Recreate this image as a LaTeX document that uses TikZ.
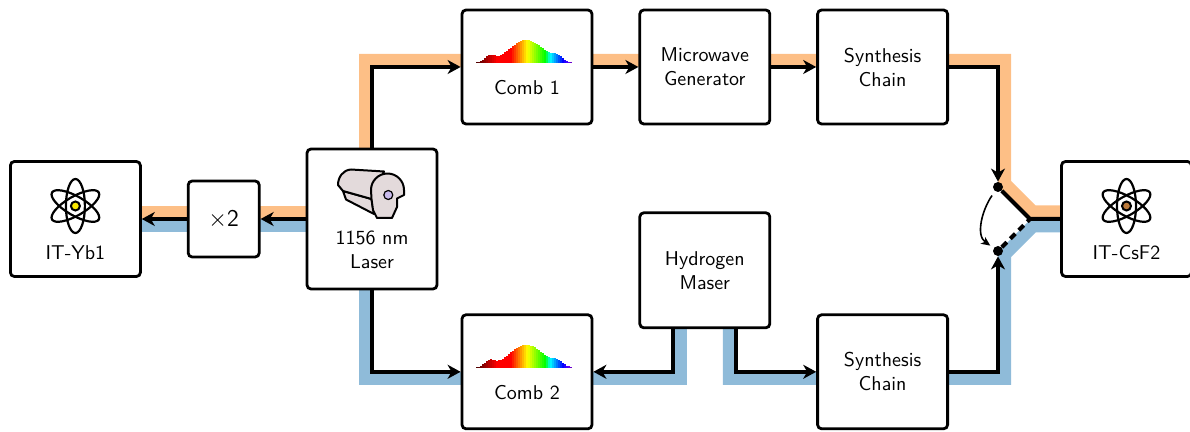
\documentclass[tikz,border=0pt]{standalone}
\usepackage{amsmath}
\usepackage[usenames,dvipsnames]{xcolor}
\usepackage{tikz}
\usetikzlibrary{positioning, arrows.meta, backgrounds}

\definecolor{beamorange}{RGB}{253,191,134}
\definecolor{beamblue}{RGB}{143,187,217}
\definecolor{ybyellow}{RGB}{250,232,0}
\definecolor{csbrown}{RGB}{188,122,58}
\definecolor{laserbody}{RGB}{227,218,219}
\definecolor{laserlens}{RGB}{200,186,235}

\begin{document}
\begin{tikzpicture}[x=0.5pt, y=0.5pt, node distance=22.5pt,
  box node/.style={draw, fill=white, rounded corners=2pt, line width=1.4pt,
    minimum width=65pt, minimum height=57.5pt, inner sep=0pt, align=center, font=\sffamily},
  label node/.style={align=center, font=\sffamily, inner sep=0pt},
  link/.style={line width=2pt, -{Stealth[length=6.5pt, width=7pt, inset=2pt]}},
  beam/.style={line width=6.5pt},
  dot node/.style={circle, fill, inner sep=0pt, minimum size=5pt},
  switch arrow/.style={line width=0.8pt, -{Stealth[length=4.5pt, width=4pt, inset=1.2pt]},
    shorten <=2.5pt, shorten >=2pt},
  body/.style={draw=black, fill=laserbody, line width=1pt, line join=round},
  atom/.pic={
    \foreach \a in {90,30,-30}
      \draw[line width=1.1pt, rotate=\a] (0,0) ellipse [x radius=13.5pt, y radius=4.75pt];
    \fill[white] (0,0) circle [radius=4pt];
    \draw[line width=1pt, fill=#1] (0,0) circle [radius=2.25pt];
  },
  laser head/.pic={
    \filldraw[body] (-29,-1) -- (-26,-9.5) -- (2,-24) -- (-0.5,-9) -- cycle;
    \filldraw[body] (-29,-1) -- (-34,5) .. controls (-34,13) and (-29,20) .. (-21,20.5)
      -- (12,18.5) -- (-0.5,-9) -- cycle;
    \filldraw[body] (-1,0) arc [start angle=180, end angle=0, radius=8.25pt] -- (32,-5)
      -- (25,-8.5) -- (25,-17) -- (20,-28) -- (5,-28) -- (1,-20) -- (-0.5,-9) -- cycle;
    \filldraw[fill=laserlens, line width=0.6pt] (16.3,-5) circle [radius=2.25pt];
  },
  spectrum/.pic={
    \foreach \i in {0,...,47}{
      \pgfmathsetmacro{\bx}{-47+2*\i}
      \pgfmathsetmacro{\bl}{780-7.9*\i}
      \pgfmathsetmacro{\bh}{23*exp(-((\bx-2.5)^2)/594)+6*exp(-((\bx+34.5)^2)/49)+4.5*exp(-((\bx-33.5)^2)/49)}
      \definecolor{bar}{wave}{\bl}
      \fill[bar] (\bx-1,0) rectangle ++(2,\bh);
    }
  }]

\useasboundingbox (0,0) rectangle (1190,-432);

\node[box node, minimum height=70pt] (laser) at (372,-219) {};
\node[box node, minimum width=35.5pt, minimum height=38pt, font=\sffamily\large] (x2) [left=of laser] {$\times$2};
\node[box node] (yb1) [left=of x2] {};
\node[box node, minimum height=57pt] (comb1) at (527,-67) {};
\node[box node, minimum height=57pt] (mw) [right=of comb1] {Microwave\\Generator};
\node[box node, minimum height=57pt] (synth1) [right=of mw] {Synthesis\\Chain};
\node[box node] (maser) [below=43pt of mw] {Hydrogen\\Maser};
\node[box node, minimum height=57pt] (comb2) [below=94pt of comb1] {};
\node[box node, minimum height=57pt] (synth2) [below=94pt of synth1] {Synthesis\\Chain};
\node[box node] (csf2) at (1126.5,-219) {};

\node[dot node] (sw1) at (998,-187) {};
\node[dot node] (sw2) at (998,-251) {};
\coordinate (hub) at (1030,-219);

\pic at ([yshift=6.5pt]yb1.center) {atom=ybyellow};
\node[label node] (yb1 label) at ([yshift=-17pt]yb1.center) {IT-Yb1};
\pic at ([yshift=6.5pt]csf2.center) {atom=csbrown};
\node[label node] (csf2 label) at ([yshift=-17pt]csf2.center) {IT-CsF2};
\pic at ([yshift=14.5pt]laser.center) {laser head};
\node[label node] (laser label) at ([yshift=-15.5pt]laser.center) {1156 nm\\Laser};
\pic at ([shift={(-1.75pt,2pt)}]comb1.center) {spectrum};
\node[label node] (comb1 label) at ([yshift=-10.5pt]comb1.center) {Comb 1};
\pic at ([shift={(-1.75pt,2pt)}]comb2.center) {spectrum};
\node[label node] (comb2 label) at ([yshift=-10.5pt]comb2.center) {Comb 2};

\begin{scope}[on background layer]
\draw[beam, draw=beamorange] ([xshift=-3.25pt]laser.center) |- ([yshift=3.25pt]synth1.center)
  -| ([shift={(3.25pt,1.75pt)}]sw1.center) -- ([shift={(1.5pt,3.5pt)}]hub) -- ([yshift=3.5pt]csf2.center);
\draw[beam, draw=beamorange] ([yshift=3.25pt]laser.center) -- ([yshift=3.25pt]yb1.center);
\draw[beam, draw=beamblue] ([yshift=-3.25pt]laser.center) -- ([yshift=-3.25pt]yb1.center);
\draw[beam, draw=beamblue] ([xshift=-3.25pt]laser.center) |- ([yshift=-3.25pt]comb2.center);
\draw[beam, draw=beamblue] ([xshift=-12.25pt]maser.center) |- ([yshift=-3.25pt]comb2.center);
\draw[beam, draw=beamblue] ([xshift=12.25pt]maser.center) |- ([yshift=-3.25pt]synth2.center)
  -| ([shift={(3.25pt,-1.75pt)}]sw2.center) -- ([shift={(1.5pt,-3.5pt)}]hub) -- ([yshift=-3.5pt]csf2.center);
\end{scope}

\path[link]
(laser) edge (x2)
(x2) edge (yb1)
(comb1) edge (mw)
(mw) edge (synth1)
;

\draw[link] (laser.north) |- (comb1.west);
\draw[link] (laser.south) |- (comb2.west);
\draw[link] ([xshift=-15.75pt]maser.south) |- (comb2.east);
\draw[link] ([xshift=15.75pt]maser.south) |- (synth2.west);
\draw[link] (synth1.east) -| (sw1);
\draw[link] (synth2.east) -| (sw2);
\draw[line width=2pt] (sw1) -- (hub) -- (csf2);
\draw[line width=2pt, dash pattern=on 3.5pt off 2.5pt] (sw2) -- (hub);
\draw[switch arrow] (sw1) to[out=235, in=145] (sw2);
\end{tikzpicture}
\end{document}
